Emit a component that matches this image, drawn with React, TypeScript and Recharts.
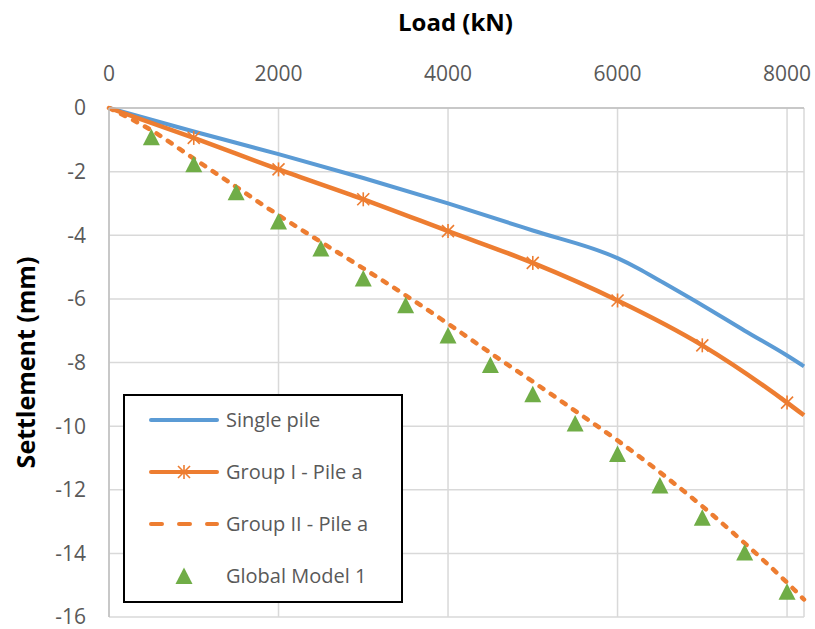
import { ComposedChart, Line, XAxis, YAxis, CartesianGrid, Legend, Label } from "recharts";

// load (kN) / settlement (mm)
const singleLoad = [0, 1000, 2000, 3000, 4000, 5000, 6000, 6250, 6500, 7000, 7500, 8000, 8200];
const singleSettle = [0, -0.74, -1.45, -2.2, -3.0, -3.85, -4.72, -5.05, -5.43, -6.2, -7.0, -7.78, -8.12];

const groupOneLoad = [0, 1000, 2000, 3000, 4000, 5000, 6000, 7000, 8000, 8200];
const groupOneSettle = [0, -0.94, -1.93, -2.87, -3.87, -4.87, -6.05, -7.46, -9.26, -9.66];
const groupOneMarkers = [1000, 2000, 3000, 4000, 5000, 6000, 7000, 8000];

const groupTwoLoad = [0, 500, 1000, 1500, 2000, 2500, 3000, 3500, 4000, 4500, 5000, 5500, 6000, 6500, 7000, 7500, 8000, 8200];
const groupTwoSettle = [0, -0.7, -1.59, -2.48, -3.37, -4.21, -5.04, -5.89, -6.78, -7.7, -8.6, -9.52, -10.45, -11.45, -12.52, -13.68, -14.92, -15.45];

const globalLoad = [500, 1000, 1500, 2000, 2500, 3000, 3500, 4000, 4500, 5000, 5500, 6000, 6500, 7000, 7500, 8000];
const globalSettle = [-0.92, -1.77, -2.65, -3.57, -4.42, -5.36, -6.2, -7.15, -8.08, -9.0, -9.92, -10.88, -11.87, -12.88, -13.97, -15.21];

const xTicks = [0, 2000, 4000, 6000, 8000];
const yTicks = [0, -2, -4, -6, -8, -10, -12, -14, -16];

const seriesNames = ["Single pile", "Group I - Pile a", "Group II - Pile a", "Global Model 1"];

const BLUE = "#5B9BD5";
const ORANGE = "#ED7D31";
const GREEN = "#70AD47";
const FONT = "'Open Sans', sans-serif";

const toRows = (xs: number[], ys: number[]) => xs.map((load, i) => ({ load, s: ys[i] }));

const singleData = toRows(singleLoad, singleSettle);
const groupOneData = toRows(groupOneLoad, groupOneSettle);
const groupTwoData = toRows(groupTwoLoad, groupTwoSettle);
const globalData = toRows(globalLoad, globalSettle);

function Star({ cx, cy }: { cx: number; cy: number }) {
  return (
    <g stroke={ORANGE} strokeWidth={1.6}>
      <line x1={cx} y1={cy - 7} x2={cx} y2={cy + 7} />
      <line x1={cx - 6} y1={cy - 6} x2={cx + 6} y2={cy + 6} />
      <line x1={cx - 6} y1={cy + 6} x2={cx + 6} y2={cy - 6} />
    </g>
  );
}

function Tri({ cx, cy }: { cx: number; cy: number }) {
  return <polygon points={`${cx},${cy - 8.5} ${cx - 8.5},${cy + 8} ${cx + 8.5},${cy + 8}`} fill={GREEN} />;
}

const starDot = (p: any) => {
  if (!groupOneMarkers.includes(p.payload.load)) return <g key={`s${p.index}`} />;
  return (
    <g key={`s${p.index}`}>
      <Star cx={p.cx} cy={p.cy} />
    </g>
  );
};

const triDot = (p: any) => (
  <g key={`t${p.index}`}>
    <Tri cx={p.cx} cy={p.cy} />
  </g>
);

function LegendBox() {
  const icon = (i: number) => {
    if (i === 0) return <line x1={2} y1={10} x2={68} y2={10} stroke={BLUE} strokeWidth={4} strokeLinecap="round" />;
    if (i === 1)
      return (
        <g>
          <line x1={2} y1={10} x2={68} y2={10} stroke={ORANGE} strokeWidth={4} strokeLinecap="round" />
          <Star cx={35} cy={10} />
        </g>
      );
    if (i === 2)
      return <line x1={2} y1={10} x2={68} y2={10} stroke={ORANGE} strokeWidth={4} strokeLinecap="round" strokeDasharray="11 17" />;
    return <Tri cx={35} cy={10} />;
  };
  return (
    <div
      style={{
        position: "relative",
        width: 280,
        height: 209,
        boxSizing: "border-box",
        border: "2px solid #000",
        background: "#fff",
        fontFamily: FONT,
        fontSize: 20,
        color: "#595959",
      }}
    >
      {seriesNames.map((name, i) => (
        <div key={name} style={{ position: "absolute", left: 0, top: i * 52, height: 52, width: 276 }}>
          <svg width={70} height={20} style={{ position: "absolute", left: 24, top: 14 }}>
            {icon(i)}
          </svg>
          <span style={{ position: "absolute", left: 101, top: 10, lineHeight: "28px", whiteSpace: "nowrap" }}>{name}</span>
        </div>
      ))}
    </div>
  );
}

const xTitle = (props: any) => {
  const vb = props.viewBox;
  return (
    <text x={vb.x + vb.width / 2 - 1} y={vb.y + 31} textAnchor="middle" fontFamily={FONT} fontSize={24} fontWeight="bold" fill="#000">
      Load (kN)
    </text>
  );
};

const yTitle = (props: any) => {
  const vb = props.viewBox;
  const cx = 35;
  const cy = vb.y + vb.height / 2;
  return (
    <text x={cx} y={cy} textAnchor="middle" transform={`rotate(-90, ${cx}, ${cy})`} fontFamily={FONT} fontSize={25} fontWeight="bold" fill="#000">
      Settlement (mm)
    </text>
  );
};

export default function App() {
  return (
    <div style={{ position: "absolute", left: 0, top: 0, width: 815, height: 629, background: "#fff" }}>
      <ComposedChart width={815} height={629} margin={{ top: 0, right: 11, bottom: 12, left: 0 }} style={{ fontFamily: FONT }}>
        <CartesianGrid stroke="#D9D9D9" strokeWidth={1.5} />
        <XAxis
          type="number"
          dataKey="load"
          orientation="top"
          domain={[0, 8200]}
          ticks={xTicks}
          height={108}
          tickLine={false}
          tickSize={6}
          tickMargin={21}
          axisLine={{ stroke: "#BFBFBF", strokeWidth: 1.5 }}
          tick={{ fill: "#595959", fontSize: 21, fontFamily: FONT }}
        >
          <Label content={xTitle} />
        </XAxis>
        <YAxis
          type="number"
          domain={[-16, 0]}
          ticks={yTicks}
          width={109}
          tickLine={false}
          tickSize={6}
          tickMargin={17}
          axisLine={{ stroke: "#BFBFBF", strokeWidth: 1.5 }}
          tick={{ fill: "#595959", fontSize: 21, fontFamily: FONT }}
        >
          <Label content={yTitle} />
        </YAxis>
        <Legend
          layout="horizontal"
          align="center"
          verticalAlign="middle"
          content={() => <LegendBox />}
          wrapperStyle={{ left: 123, top: 394, width: 280, height: 209 }}
        />
        <Line data={singleData} dataKey="s" name={seriesNames[0]} type="monotone" stroke={BLUE} strokeWidth={4} dot={false} isAnimationActive={false} />
        <Line data={groupOneData} dataKey="s" name={seriesNames[1]} type="monotone" stroke={ORANGE} strokeWidth={4.5} dot={starDot} isAnimationActive={false} />
        <Line
          data={groupTwoData}
          dataKey="s"
          name={seriesNames[2]}
          type="monotone"
          stroke={ORANGE}
          strokeWidth={4.5}
          strokeDasharray="4.5 9"
          strokeLinecap="round"
          dot={false}
          isAnimationActive={false}
        />
        <Line data={globalData} dataKey="s" name={seriesNames[3]} stroke="none" dot={triDot} activeDot={false} isAnimationActive={false} />
      </ComposedChart>
    </div>
  );
}
